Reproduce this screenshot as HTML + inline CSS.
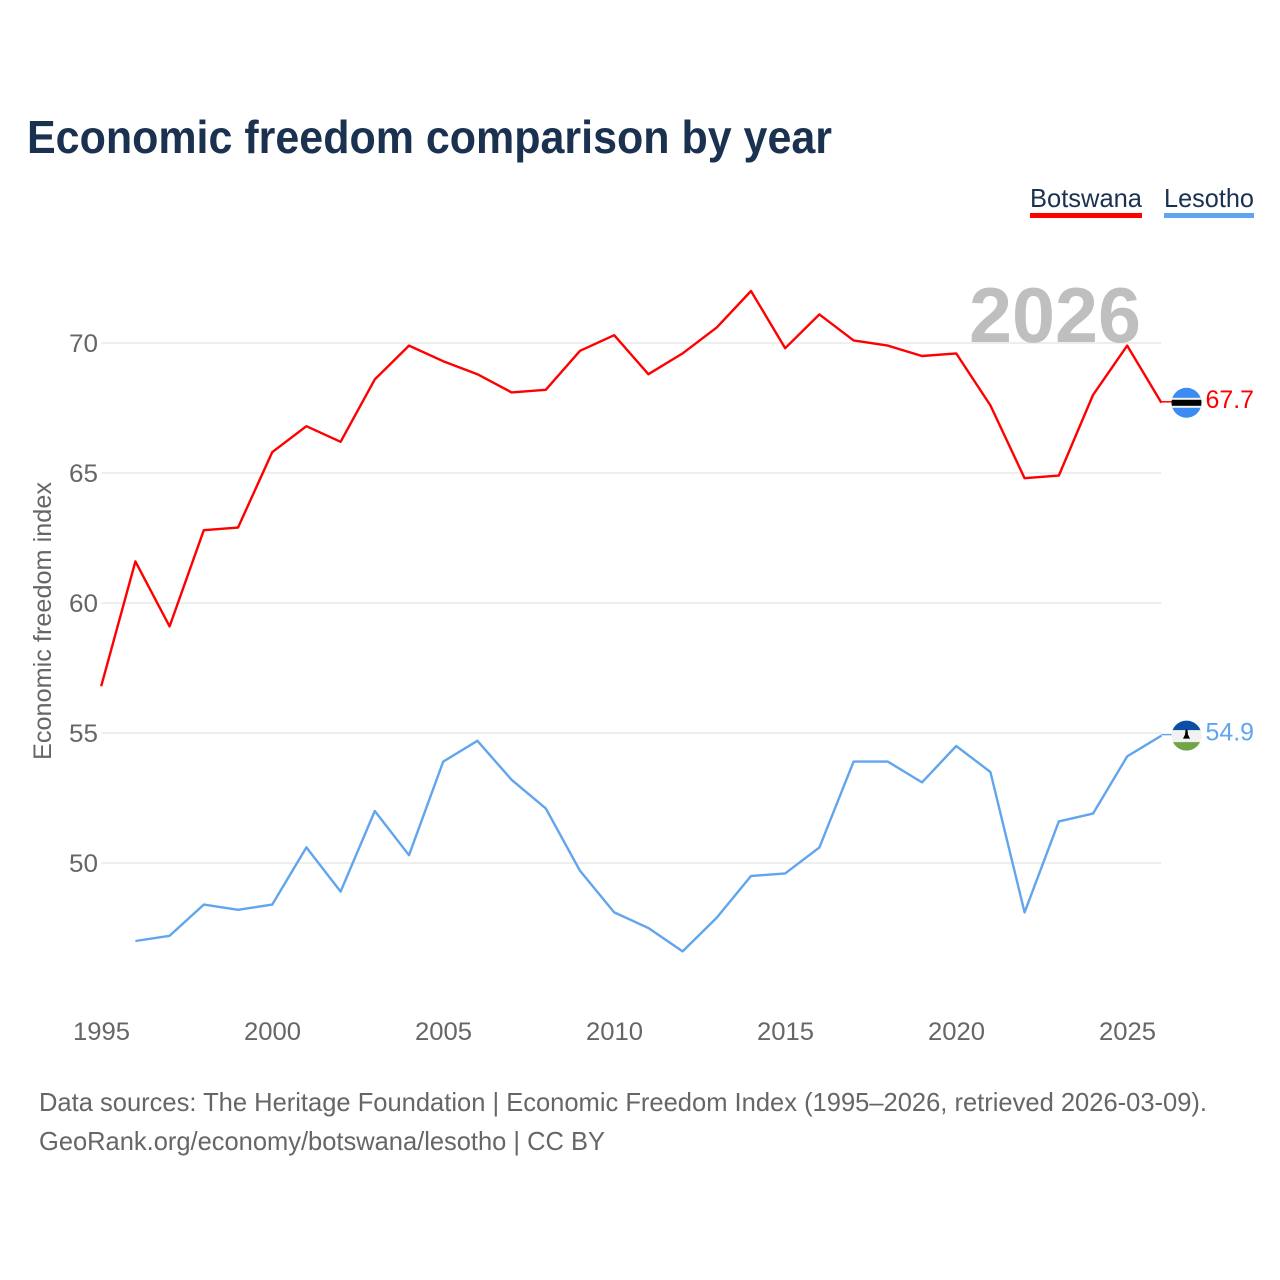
<!DOCTYPE html>
<html lang="en">
<head>
<meta charset="utf-8">
<title>Economic freedom comparison by year</title>
<style>
html,body{margin:0;padding:0;background:#fff;}
svg{display:block;font-family:"Liberation Sans",sans-serif;}
</style>
</head>
<body>
<svg id="chart" width="1280" height="1280" viewBox="0 0 1280 1280" xmlns="http://www.w3.org/2000/svg">
  <rect width="1280" height="1280" fill="#fff"/>
  <text x="27" y="153" font-size="46" font-weight="700" fill="#1a3150" textLength="805" lengthAdjust="spacingAndGlyphs">Economic freedom comparison by year</text>

  <g>
    <text x="1030" y="207" font-size="26" fill="#1a3150" textLength="112" lengthAdjust="spacingAndGlyphs">Botswana</text>
    <rect x="1030" y="213" width="112" height="5" fill="#ff0000"/>
  </g>
  <g>
    <text x="1164" y="207" font-size="26" fill="#1a3150" textLength="90" lengthAdjust="spacingAndGlyphs">Lesotho</text>
    <rect x="1164" y="213" width="90" height="5" fill="#60a5ee"/>
  </g>

  <g id="grid"></g>
  <text x="969" y="342" font-size="78" font-weight="700" fill="#bfbfbf" textLength="172" lengthAdjust="spacingAndGlyphs">2026</text>
  <g id="y-ticks"></g>
  <g id="x-ticks"></g>
  <text transform="translate(51,760) rotate(-90)" font-size="25" fill="#666" textLength="278" lengthAdjust="spacingAndGlyphs">Economic freedom index</text>
  <g id="series"></g>
  <g id="ends"></g>

  <text x="39" y="1111" font-size="26" fill="#666" textLength="1168" lengthAdjust="spacingAndGlyphs">Data sources: The Heritage Foundation | Economic Freedom Index (1995–2026, retrieved 2026-03-09).</text>
  <text x="39" y="1150" font-size="26" fill="#666" textLength="566" lengthAdjust="spacingAndGlyphs">GeoRank.org/economy/botswana/lesotho | CC BY</text>
</svg>
<script>
const years = [1995,1996,1997,1998,1999,2000,2001,2002,2003,2004,2005,2006,2007,2008,2009,2010,2011,2012,2013,2014,2015,2016,2017,2018,2019,2020,2021,2022,2023,2024,2025,2026];
const botswanaValues = [56.8,61.6,59.1,62.8,62.9,65.8,66.8,66.2,68.6,69.9,69.3,68.8,68.1,68.2,69.7,70.3,68.8,69.6,70.6,72.0,69.8,71.1,70.1,69.9,69.5,69.6,67.6,64.8,64.9,68.0,69.9,67.7];
const lesothoValues = [null,47.0,47.2,48.4,48.2,48.4,50.6,48.9,52.0,50.3,53.9,54.7,53.2,52.1,49.7,48.1,47.5,46.6,47.9,49.5,49.6,50.6,53.9,53.9,53.1,54.5,53.5,48.1,51.6,51.9,54.1,54.9];
const yTickValues = [50,55,60,65,70];
const xTickValues = [1995,2000,2005,2010,2015,2020,2025];

const NS = 'http://www.w3.org/2000/svg';
const xScale = function (year) { return 101.2 + (year - 1995) * 34.2; };
const yScale = function (value) { return 343 + (70 - value) * 26; };
const plotRight = xScale(2026);

function make(tag, attrs, parent, text) {
  const el = document.createElementNS(NS, tag);
  for (const key in attrs) { el.setAttribute(key, attrs[key]); }
  if (text !== undefined) { el.textContent = text; }
  parent.appendChild(el);
  return el;
}

const grid = document.getElementById('grid');
const yTicks = document.getElementById('y-ticks');
yTickValues.forEach(function (v) {
  const line = make('line', {x1: 101.5, x2: plotRight, y1: yScale(v), y2: yScale(v), stroke: '#eeeeee', 'stroke-width': 2}, grid);
  
  
  const label = make('text', {x: 98, y: yScale(v) + 9, 'text-anchor': 'end', 'font-size': 25, fill: '#666', textLength: 29, lengthAdjust: 'spacingAndGlyphs'}, yTicks, String(v));
  
  
});

const xTicks = document.getElementById('x-ticks');
xTickValues.forEach(function (yr) {
  const label = make('text', {x: xScale(yr) - 28.2, y: 1040, 'font-size': 25, fill: '#666', textLength: 57, lengthAdjust: 'spacingAndGlyphs'}, xTicks, String(yr));
  
  
});

function pointsFor(values) {
  const pts = [];
  values.forEach(function (v, i) {
    if (v !== null) { pts.push(xScale(years[i]).toFixed(2) + ',' + yScale(v).toFixed(2)); }
  });
  return pts.join(' ');
}

const seriesGroup = document.getElementById('series');
const botswanaLine = make('polyline', {points: pointsFor(botswanaValues), fill: 'none', stroke: '#ff0000', 'stroke-width': 2.4, 'stroke-linejoin': 'round'}, seriesGroup);


const lesothoLine = make('polyline', {points: pointsFor(lesothoValues), fill: 'none', stroke: '#60a5ee', 'stroke-width': 2.4, 'stroke-linejoin': 'round'}, seriesGroup);



const ends = document.getElementById('ends');
const flagX = 1186.5;
const flagR = 15;

function endMarker(id, values, color, drawFlag) {
  const last = values[values.length - 1];
  const y = yScale(last);
  const connector = make('line', {x1: plotRight, x2: flagX - flagR, y1: y - 1, y2: y - 1, stroke: color, 'stroke-width': 1.5}, ends);
  
  
  const clip = make('clipPath', {id: 'clip-' + id}, ends);
  make('circle', {cx: flagX, cy: y, r: flagR}, clip);
  const flag = make('g', {'clip-path': 'url(#clip-' + id + ')'}, ends);
  
  
  drawFlag(flag, y);
  const label = make('text', {x: 1205.5, y: y + 5, 'font-size': 25, fill: color, textLength: 48.5, lengthAdjust: 'spacingAndGlyphs'}, ends, last.toFixed(1));
  
  
}

endMarker('botswana', botswanaValues, '#ff0000', function (g, y) {
  make('rect', {x: flagX - 16, y: y - 16, width: 32, height: 32, fill: '#3a8bf2'}, g);
  make('rect', {x: flagX - 16, y: y - 5, width: 32, height: 10, fill: '#f2f2f2'}, g);
  make('rect', {x: flagX - 16, y: y - 3, width: 32, height: 6, fill: '#000'}, g);
});

endMarker('lesotho', lesothoValues, '#60a5ee', function (g, y) {
  make('rect', {x: flagX - 16, y: y - 16, width: 32, height: 11, fill: '#0a4fa6'}, g);
  make('rect', {x: flagX - 16, y: y - 5.5, width: 32, height: 12, fill: '#f1f1f1'}, g);
  make('rect', {x: flagX - 16, y: y + 6.5, width: 32, height: 10, fill: '#6fa547'}, g);
  make('path', {d: 'M' + (flagX - 3.5) + ' ' + (y + 3) + ' L' + (flagX + 3.5) + ' ' + (y + 3) + ' L' + (flagX + 1.5) + ' ' + (y - 1) + ' L' + (flagX + 1) + ' ' + (y - 6) + ' L' + (flagX - 1) + ' ' + (y - 6) + ' L' + (flagX - 1.5) + ' ' + (y - 1) + ' Z', fill: '#000'}, g);
});
</script>
</body>
</html>
